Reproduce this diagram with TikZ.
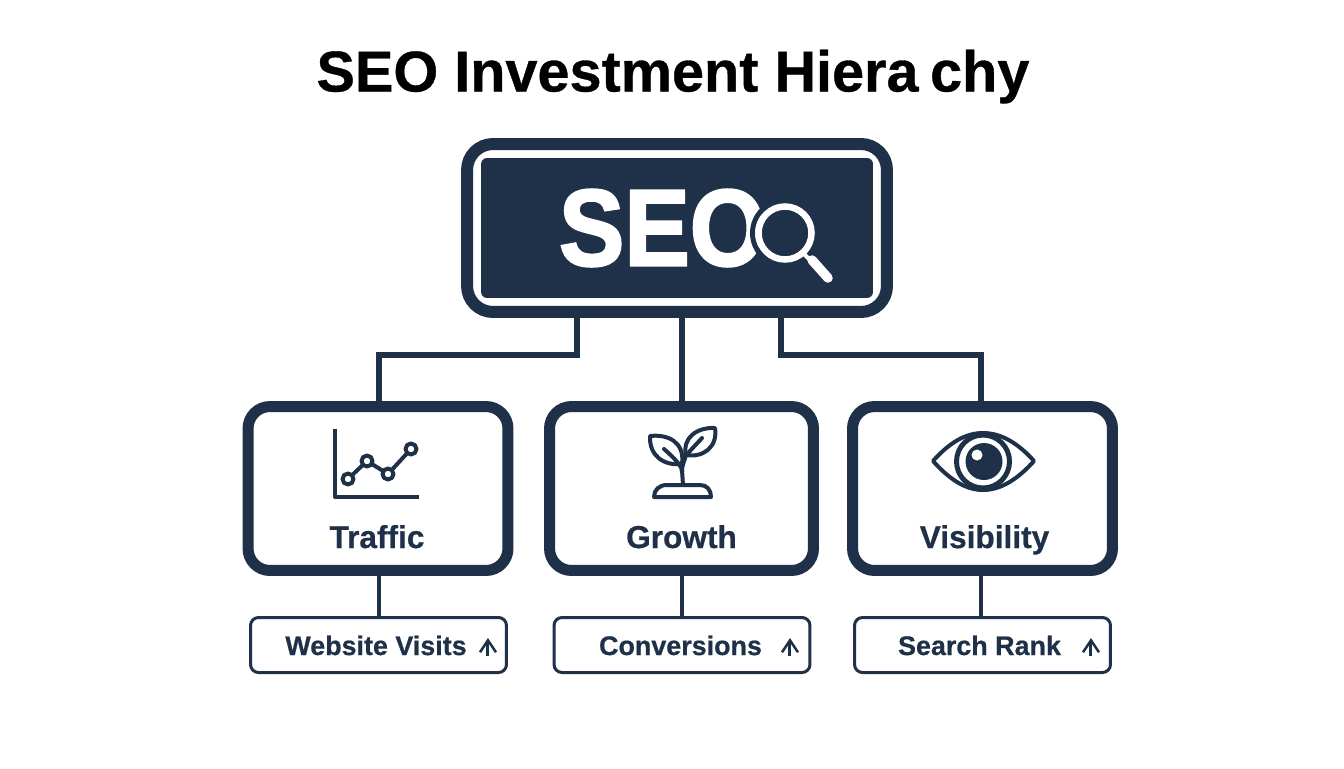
\documentclass[tikz,border=0pt]{standalone}
\usepackage{fontspec}
\setmainfont{Liberation Sans}[BoldFeatures={FakeBold=0.6}]
\newfontfamily\heavyfont{Liberation Sans Bold}[FakeBold=2.2]
\usetikzlibrary{arrows.meta}
\definecolor{navy}{HTML}{1E3148}
\tikzset{
	mainbox/.style={draw=navy, line width=0.22cm, rounded corners=0.44cm, inner sep=0pt, minimum width=5.2cm, minimum height=3.28cm},
	subbox/.style={draw=navy, line width=0.06cm, rounded corners=0.16cm, inner sep=0pt, minimum width=5.12cm, minimum height=1.1cm},
	mainlabel/.style={text=navy, font=\fontsize{18}{20}\selectfont\bfseries, anchor=base},
	sublabel/.style={text=navy, font=\fontsize{15.3}{18}\selectfont\bfseries, anchor=base},
	link/.style={draw=navy, line width=0.12cm},
	sublink/.style={draw=navy, line width=0.08cm},
	icon/.style={draw=navy, line width=0.08cm, line join=round, line cap=round},
	uparrow/.style={draw=navy, line width=0.06cm, -{Straight Barb[length=2.4mm,width=3.2mm,line width=0.05cm]}}
}
\begin{document}
\begin{tikzpicture}[x=0.02cm, y=-0.02cm]
	\useasboundingbox (0,0) rectangle (1344,768);
	\fill[white] (0,0) rectangle (1344,768);

	\node[font=\fontsize{32.8}{36}\selectfont\bfseries, anchor=base, text=black] (title) at (673,91.5) {SEO Investment Hiera\kern0.2em chy};

	% top box
	\node[draw=navy, line width=0.24cm, rounded corners=0.52cm, inner sep=0pt, minimum width=8.4cm, minimum height=3.36cm] (seo) at (677,228) {};
	\node[fill=navy, rounded corners=0.12cm, inner sep=0pt, minimum width=7.84cm, minimum height=2.8cm] (seoin) at (677,228) {};
	\node[text=white, font=\heavyfont\fontsize{62}{70}\selectfont, anchor=base, xscale=0.9] (seotext) at (662.5,265.5) {SEO};
	% magnifier
	\draw[line width=0.1cm, draw=navy] (785,233) circle (32.5);
	\draw[white, line width=0.13cm, fill=navy] (785,233) circle (26.5);
	\draw[white, line width=0.08cm] (804,254) -- (814,264);
	\draw[white, line width=0.19cm, line cap=round] (812,260) -- (828,278);

	% middle row
	\node[mainbox] (traffic) at (378,488.5) {};
	\node[mainbox, minimum width=5.28cm] (growth) at (681.5,488.5) {};
	\node[mainbox] (visibility) at (982.5,488.5) {};
	\node[mainlabel] (trafficlabel) at (377,548) {Traffic};
	\node[mainlabel] (growthlabel) at (681.5,548) {Growth};
	\node[mainlabel] (visibilitylabel) at (984.5,548) {Visibility};

	% bottom row
	\node[subbox] (visits) at (378.5,645) {};
	\node[subbox] (conversions) at (682,645) {};
	\node[subbox] (rank) at (982.5,645) {};
	\node[sublabel] (visitslabel) at (376,655) {Website Visits};
	\node[sublabel] (conversionslabel) at (680.5,655) {Conversions};
	\node[sublabel] (ranklabel) at (979.5,655) {Search Rank};
	\foreach \n\dx in {visits/2.19,conversions/2.16,rank/2.17}{
		\draw[uparrow] ([xshift=\dx cm, yshift=-0.21cm]\n.center) -- ([xshift=\dx cm, yshift=0.14cm]\n.center);
	}

	% connectors
	\draw[link] ([xshift=-2cm]seo.south) -- ++(0,37) -| ([xshift=0.02cm]traffic.north);
	\draw[link] (seo.south -| growth.north) -- (growth.north);
	\draw[link] ([xshift=2.08cm]seo.south) -- ++(0,37) -| ([xshift=-0.03cm]visibility.north);
	\draw[sublink] (visits.north |- traffic.south) -- (visits.north);
	\draw[sublink] (conversions.north |- growth.south) -- (conversions.north);
	\draw[sublink] ([xshift=-0.03cm]visibility.south) -- ([xshift=-0.03cm]visibility.south |- rank.north);

	% chart icon
	\draw[icon, line cap=butt] (335,429) -- (335,497) -- (419,497);
	\draw[icon] (348,479) -- (367,461) -- (388,474) -- (411,449);
	\foreach \x\y in {348/479,367/461,388/474,411/449}{
		\draw[icon, fill=white] (\x,\y) circle (5.5);
	}

	% plant icon
	\draw[icon] (654,497) .. controls (654,490) and (659,485) .. (667,485) -- (700,485) .. controls (707,485) and (711,490) .. (711,497) -- cycle;
	\draw[icon] (683,485) -- (682,470);
	\draw[icon] (682,472) .. controls (682,464) and (685,460) .. (686,455);
	\draw[icon] (682,472) .. controls (682,468) and (680,463) .. (664,449);
	\draw[icon] (650,436) .. controls (668,434) and (685,442) .. (682,464) .. controls (664,466) and (649,456) .. (650,436) -- cycle;
	\draw[icon] (715,428) .. controls (697,427) and (682,438) .. (686,455) .. controls (703,458) and (718,447) .. (715,428) -- cycle;
	\draw[icon] (702,438) -- (689,452);

	% eye icon
	\draw[icon] (933,461) .. controls (950,442) and (966,433) .. (983,433) .. controls (1000,433) and (1017,442) .. (1034,461) .. controls (1017,480) and (1000,490) .. (983,490) .. controls (966,490) and (950,480) .. (933,461) -- cycle;
	\draw[icon, line width=0.1cm] (983,461.5) circle (26.5);
	\fill[navy] (984,461.5) circle (18.5);
	\fill[white] (977,455) circle (5.5);
\end{tikzpicture}
\end{document}
